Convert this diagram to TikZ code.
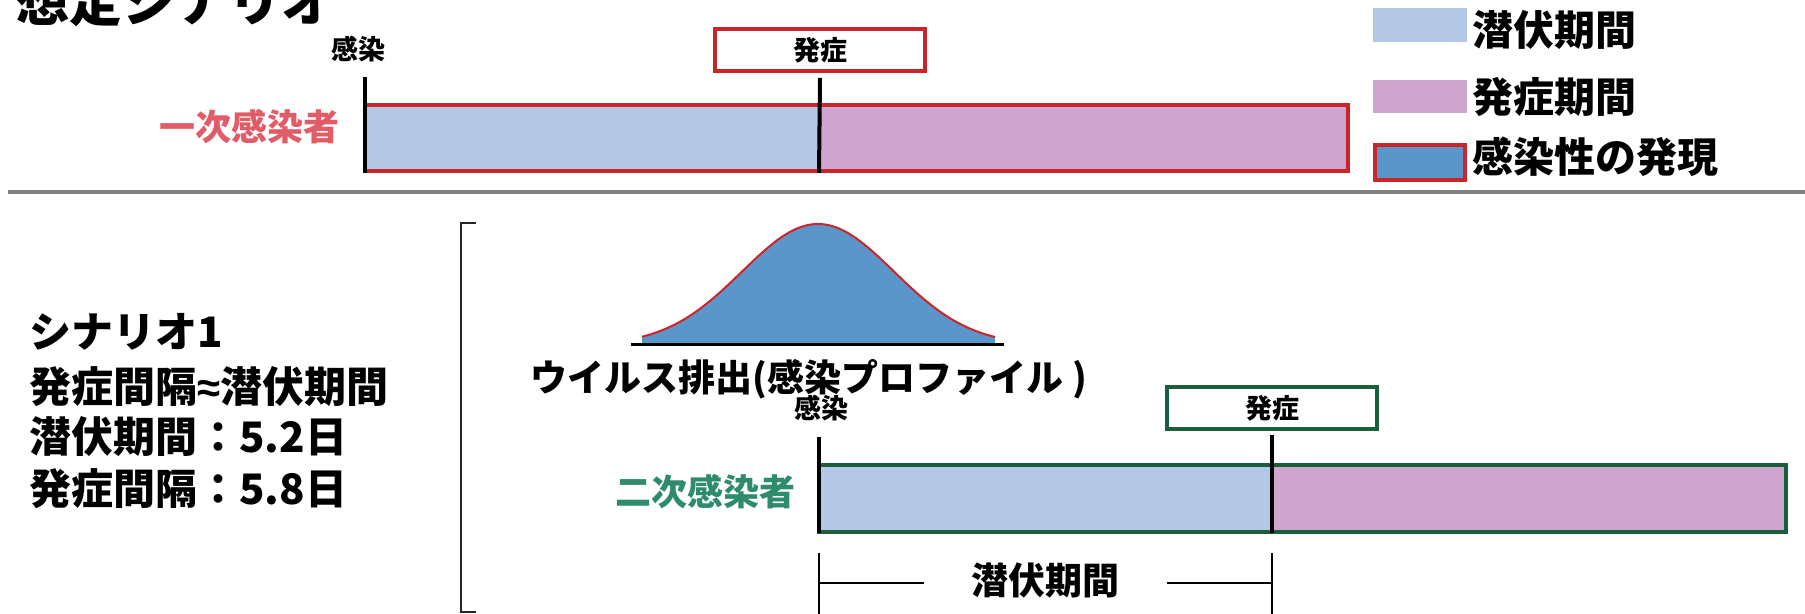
\documentclass[tikz,border=0pt]{standalone}
\usepackage{fontspec}
\setmainfont{Noto Sans CJK JP}
\newfontfamily\latinbold{Liberation Sans}
\definecolor{latent}{HTML}{B4C7E5}
\definecolor{sympt}{HTML}{CDA5CE}
\definecolor{redb}{HTML}{C9252B}
\definecolor{greenb}{HTML}{1B5E3B}
\definecolor{redtxt}{HTML}{E15C66}
\definecolor{greentxt}{HTML}{2E8C6C}
\definecolor{shed}{HTML}{5B96CB}
\definecolor{sepgray}{HTML}{7F7F7F}
\begin{document}
\begin{tikzpicture}[x=0.5pt,y=-0.5pt,
  txt/.style={inner sep=0pt, font=\bfseries\fontsize{#1}{#1}\selectfont},
  marker/.style={line width=2pt, black},
  onsetbox/.style={draw=#1, line width=1.8pt, fill=white, minimum width=105pt, minimum height=21pt, inner sep=0pt, font=\bfseries\fontsize{13.5}{14}\selectfont},
  dimline/.style={line width=1pt, black}]
\useasboundingbox (0,0) rectangle (1805,614);

% title (cut at top)
\node[txt=26.5, anchor=base west] (title) at (16,22) {想定シナリオ};

% ---- primary case ----
\fill[latent] (365,105) rectangle (819,171);
\fill[sympt] (819,105) rectangle (1348,171);
\draw[redb, line width=2pt] (365,105) rectangle (1348,171);
\coordinate (b1l) at (365,173);
\coordinate (b1m) at (819,173);
\node[txt=13.5] (inf1) at (358,49) {感染};
\node[onsetbox=redb] (on1) at (820,50) {発症};
\draw[marker] (365,77) -- (b1l);
\draw[marker] ([yshift=-2.5pt]on1.south) -- (b1m);
\node[txt=18, text=redtxt] (prim) at (249,127) {一次感染者};

% ---- legend ----
\fill[latent] (1373,8) rectangle (1467,42);
\node[txt=20.5, anchor=west] (lg1) at (1472,30) {潜伏期間};
\fill[sympt] (1373,80) rectangle (1467,113);
\node[txt=20.5, anchor=west] (lg2) at (1472,97) {発症期間};
\filldraw[fill=shed, draw=redb, line width=2pt] (1375,145) rectangle (1465,180);
\node[txt=20.5, anchor=west] (lg3) at (1472,157) {感染性の発現};

% separator
\draw[sepgray, line width=2pt] (8,192) -- (1805,192);

% ---- scenario text ----
\node[txt=21, anchor=west] (sc1) at (29,332) {シナリオ1};
\node[txt=21, anchor=west] (sc2) at (29,387) {発症間隔{\latinbold\bfseries ≈}潜伏期間};
\node[txt=21, anchor=west] (sc3) at (29,437) {潜伏期間：5.2日};
\node[txt=21, anchor=west] (sc4) at (29,489) {発症間隔：5.8日};

% bracket
\draw[line width=1pt, black!85] (476,223) -- (461,223) -- (461,612) -- (476,612);

% ---- shedding profile ----
\fill[shed] plot[domain=642:995, samples=90] (\x, {345-121*exp(-((\x-818)/76)^2/2)}) -- (995,343) -- (642,343) -- cycle;
\draw[redb, line width=1pt] plot[domain=642:995, samples=90] (\x, {345-121*exp(-((\x-818)/76)^2/2)});
\draw[line width=1.5pt] (631,345) -- (1004,345);
\node[txt=18.5] (prof) at (809,379) {ウイルス排出(感染プロファイル )};

% ---- secondary case ----
\fill[latent] (819,465) rectangle (1272,532);
\fill[sympt] (1272,465) rectangle (1786,532);
\draw[greenb, line width=2pt] (819,465) rectangle (1786,532);
\coordinate (b2l) at (819,533);
\coordinate (b2m) at (1272,533);
\node[txt=13.5] (inf2) at (821,408) {感染};
\node[onsetbox=greenb] (on2) at (1272,408) {発症};
\draw[marker] (819,437) -- (b2l);
\draw[marker] ([yshift=-2pt]on2.south) -- (b2m);
\node[txt=18, text=greentxt] (sec) at (705,492) {二次感染者};

% ---- latent period dimension ----
\coordinate (d1t) at (819,553);
\coordinate (d1b) at (819,614);
\coordinate (d2t) at (1272,553);
\coordinate (d2b) at (1272,614);
\node[txt=18.5] (dimtxt) at (1045,580) {潜伏期間};
\draw[dimline] (d1t) -- (d1b);
\draw[dimline] (d2t) -- (d2b);
\draw[dimline] (819,583) -- (924,583);
\draw[dimline] (1167,583) -- (1272,583);
\end{tikzpicture}
\end{document}
